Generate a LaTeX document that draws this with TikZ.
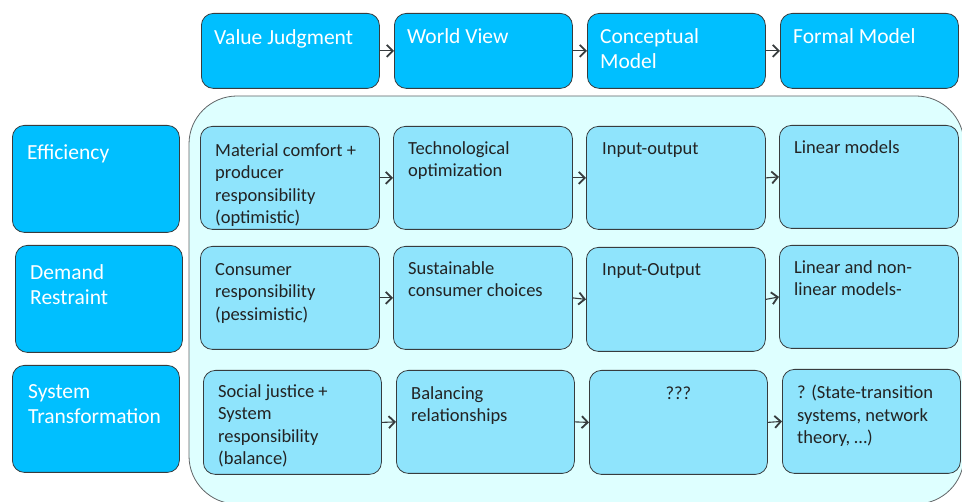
\documentclass[tikz,border=0pt]{standalone}
\usepackage{fontspec}
\setmainfont{Carlito}
\usetikzlibrary{arrows.meta}

\definecolor{headblue}{RGB}{0,191,255}
\definecolor{cellblue}{RGB}{143,228,252}
\definecolor{panelblue}{RGB}{222,255,255}
\definecolor{edgegray}{RGB}{55,60,62}
\definecolor{inkgray}{RGB}{35,35,35}

\tikzset{
  headbox/.style={draw=edgegray, fill=headblue, line width=0.8pt,
    rounded corners=12pt, anchor=north west, inner sep=0pt},
  cellbox/.style={draw=edgegray, fill=cellblue, line width=0.8pt,
    rounded corners=12pt, anchor=north west, inner sep=0pt,
    minimum width=179pt, minimum height=103pt},
  headtext/.style={anchor=north west, inner sep=0pt, align=left,
    text=white, font=\fontsize{21.5}{25.5}\selectfont},
  celltext/.style={anchor=north west, inner sep=0pt, align=left,
    text=inkgray, font=\fontsize{18.5}{22.5}\selectfont},
  flow/.style={draw=edgegray, line width=1.1pt,
    -{Straight Barb[length=6pt,width=12pt,line width=1.8pt]}}
}

\begin{document}
\begin{tikzpicture}[x=1pt,y=-1pt]
  \useasboundingbox (0,0) rectangle (962,502);

  % panel behind the grid
  \draw [draw=edgegray!80, fill=panelblue, line width=0.8pt, rounded corners=48pt]
    (189,96) rectangle (964,504);

  % column heads
  \node [headbox, minimum width=178pt, minimum height=75pt] (vj) at (201,13) {};
  \node [headbox, minimum width=178pt, minimum height=75pt] (wv) at (394,13) {};
  \node [headbox, minimum width=178pt, minimum height=75pt] (cm) at (587,13) {};
  \node [headbox, minimum width=178pt, minimum height=75pt] (fm) at (780,13) {};
  \node [headtext] (vj-t) at ([shift={(13,16)}]vj.north west) {Value Judgment};
  \node [headtext] (wv-t) at ([shift={(13,15)}]wv.north west) {World View};
  \node [headtext] (cm-t) at ([shift={(13,15)}]cm.north west) {Conceptual\\Model};
  \node [headtext] (fm-t) at ([shift={(13,15)}]fm.north west) {Formal Model};

  % row heads
  \node [headbox, minimum width=167pt, minimum height=107pt] (eff) at (12,125) {};
  \node [headbox, minimum width=167pt, minimum height=107pt] (dr) at (15,245) {};
  \node [headbox, minimum width=167pt, minimum height=107pt] (st) at (12,365) {};
  \node [headtext] (eff-t) at ([shift={(15,19)}]eff.north west) {Efficiency};
  \node [headtext] (dr-t) at ([shift={(15,19)}]dr.north west) {Demand\\Restraint};
  \node [headtext] (st-t) at ([shift={(16,19)}]st.north west) {System\\Transformation};

  % efficiency row
  \node [cellbox] (e1) at (200,126) {};
  \node [cellbox] (e2) at (393,126) {};
  \node [cellbox] (e3) at (586,126) {};
  \node [cellbox] (e4) at (779,125) {};
  \node [celltext] (e1-t) at ([shift={(15,17)}]e1.north west)
    {Material comfort +\\producer\\responsibility\\(optimistic)};
  \node [celltext] (e2-t) at ([shift={(15,15)}]e2.north west)
    {Technological\\optimization};
  \node [celltext] (e3-t) at ([shift={(16,16)}]e3.north west) {Input-output};
  \node [celltext] (e4-t) at ([shift={(15,15)}]e4.north west) {Linear models};

  % demand restraint row
  \node [cellbox] (d1) at (200,246) {};
  \node [cellbox] (d2) at (393,246) {};
  \node [cellbox, minimum height=104pt] (d3) at (586,247) {};
  \node [cellbox] (d4) at (779,245) {};
  \node [celltext] (d1-t) at ([shift={(15,17)}]d1.north west)
    {Consumer\\responsibility\\(pessimistic)};
  \node [celltext] (d2-t) at ([shift={(15,15)}]d2.north west)
    {Sustainable\\consumer choices};
  \node [celltext] (d3-t) at ([shift={(16,16)}]d3.north west) {Input-Output};
  \node [celltext] (d4-t) at ([shift={(15,15)}]d4.north west)
    {Linear and non-\\linear models-};

  % system transformation row
  \node [cellbox, minimum width=178pt, minimum height=104pt] (s1) at (203,370) {};
  \node [cellbox, minimum width=178pt] (s2) at (396,370) {};
  \node [cellbox, minimum width=178pt, minimum height=104pt] (s3) at (589,370) {};
  \node [cellbox, minimum width=178pt, minimum height=104pt] (s4) at (782,369) {};
  \node [celltext] (s1-t) at ([shift={(15,14)}]s1.north west)
    {Social justice +\\System\\responsibility\\(balance)};
  \node [celltext] (s2-t) at ([shift={(15,16)}]s2.north west)
    {Balancing\\relationships};
  \node [celltext, anchor=north] (s3-t) at ([shift={(0,17)}]s3.north) {???};
  \node [celltext] (s4-t) at ([shift={(15,16)}]s4.north west)
    {? (State-transition\\systems, network\\theory, \dots)};

  % arrows
  \draw [flow] (vj.east) -- (wv.west);
  \draw [flow] (wv.east) -- (cm.west);
  \draw [flow] (cm.east) -- (fm.west);
  \draw [flow] (e1.east) -- (e2.west);
  \draw [flow] (e2.east) -- (e3.west);
  \draw [flow] (e3.east) -- (e4.west);
  \draw [flow] (d1.east) -- (d2.west);
  \draw [flow] (d2.east) -- (d3.west);
  \draw [flow] (d3.east) -- (d4.west);
  \draw [flow] (s1.east) -- (s2.west);
  \draw [flow] (s2.east) -- (s3.west);
  \draw [flow] (s3.east) -- (s4.west);
\end{tikzpicture}
\end{document}
